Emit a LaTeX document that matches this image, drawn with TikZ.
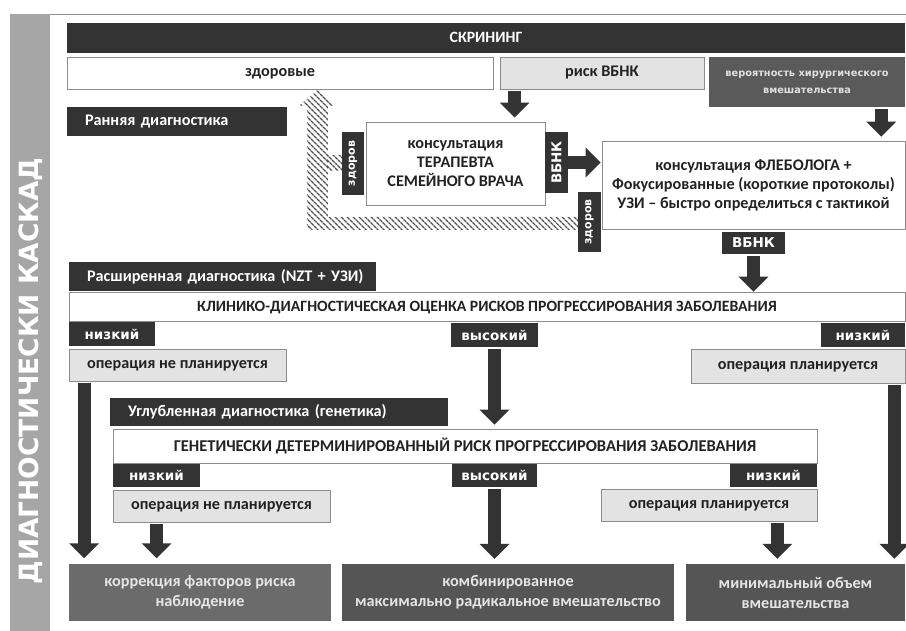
\documentclass[tikz,border=0pt]{standalone}
\usepackage{fontspec}
\setmainfont{Carlito}
\newfontfamily\flagfont{DejaVu Sans}
\usepackage{xcolor}
\usepackage{tikz}
\usetikzlibrary{arrows.meta, calc, patterns.meta}

\definecolor{boxdark}{HTML}{333333}
\definecolor{boxmid}{HTML}{5A5A5A}
\definecolor{boxlight}{HTML}{E3E3E3}
\definecolor{bandgray}{HTML}{A6A6A6}
\definecolor{framegray}{HTML}{8C8C8C}
\definecolor{outbox}{HTML}{555555}
\definecolor{outboxl}{HTML}{6B6B6B}
\definecolor{ink}{HTML}{222222}

\begin{document}
\begin{tikzpicture}[x=1pt, y=-1pt,
  every node/.style={inner sep=0pt, align=center},
  txt/.style={font=\bfseries\fontsize{16.2}{19}\selectfont, text=ink},
  oneline/.style={text height=10pt, text depth=3pt},
  capsline/.style={text height=11pt, text depth=1pt},
  whitebox/.style={txt, draw=framegray, fill=white, line width=0.8pt},
  greybox/.style={txt, oneline, draw=framegray, fill=boxlight, line width=0.8pt},
  stage/.style={fill=boxdark, text=white, font=\bfseries\fontsize{16.2}{18}\selectfont, inner xsep=18pt, align=left, minimum height=29pt},
  flag/.style={fill=boxdark, text=white, font=\flagfont\bfseries\fontsize{13.5}{15}\selectfont},
  sideflag/.style={flag, rotate=90, font=\flagfont\bfseries\fontsize{11}{13}\selectfont},
  outcome/.style={fill=outbox, text=white!90!black, font=\bfseries\fontsize{16.2}{20}\selectfont, minimum height=57pt},
  blk/.style={draw=boxdark, line width=13pt, -{Triangle[width=29pt,length=15pt]}, shorten <=2pt, shorten >=4pt},
  hatch/.style={pattern={Lines[angle=-45,distance=4pt,line width=1.5pt]}, pattern color=boxdark!85}
]
\useasboundingbox (0,0) rectangle (906,631);

% side band and frame
\fill[bandgray] (10,14) rectangle (50,631);
\draw[framegray, line width=1pt] (50,15) -- (906,15);
\node[rotate=90, text=white, font=\flagfont\bfseries\fontsize{26.5}{26.5}\selectfont] (cascade) at (31,371) {ДИАГНОСТИЧЕСКИ КАСКАД};

% screening
\node[fill=boxdark, text=white, capsline, font=\bfseries\fontsize{15.7}{17}\selectfont, minimum width=838pt, minimum height=30pt] (screen) at (486,38) {СКРИНИНГ};
\node[whitebox, oneline, minimum width=426pt, minimum height=32pt] (healthy) at (280,73) {здоровые};
\node[greybox, minimum width=204pt, minimum height=32pt] (risk) at (602,73) {риск ВБНК};
\node[fill=boxmid, text=white!88!black, font=\flagfont\bfseries\fontsize{9.8}{17}\selectfont, minimum width=196pt, minimum height=50pt] (surg) at (807,82) {вероятность хирургического\\вмешательства};

% early diagnostics
\node[stage, text width=184pt] (early) at (177,121.5) {Ранняя диагностика};
\node[whitebox, minimum width=179pt, minimum height=83pt] (ther) at (455.5,163.5) {консультация\\ТЕРАПЕВТА\\СЕМЕЙНОГО ВРАЧА};
\node[whitebox, minimum width=303pt, minimum height=88pt] (phleb) at (753.5,185) {консультация ФЛЕБОЛОГА +\\Фокусированные (короткие протоколы)\\УЗИ – быстро определиться с тактикой};

\node[sideflag, minimum width=63pt, minimum height=22pt] (zdA) at (353,163.5) {здоров};
\node[sideflag, font=\flagfont\bfseries\fontsize{13.5}{15}\selectfont, minimum width=61pt, minimum height=23pt] (vbA) at (556.5,162.5) {ВБНК};
\node[sideflag, minimum width=60pt, minimum height=23pt] (zdB) at (589.5,222) {здоров};
\node[flag, minimum width=63pt, minimum height=22pt] (vbB) at (753.5,243) {ВБНК};

% return to healthy (hatched)
\path[hatch] ($(zdB.north)+(0,-5)$) -- ++(-250,0) -- ++(0,-111) -- ++(8,0) -- ++(-18.5,-16) -- ++(-18.5,16) -- ++(8,0) -- ++(0,124) -- ++(271,0) -- cycle;
\path[hatch] ($(zdA.north)+(0,-7.5)$) rectangle ++(-15,15);

% extended diagnostics
\node[stage, text width=271pt] (ext) at (222.5,276.5) {\mbox{Расширенная диагностика (NZT + УЗИ)}};
\node[whitebox, capsline, font=\bfseries\fontsize{15.7}{18}\selectfont, minimum width=836pt, minimum height=29pt] (clin) at (487,306.5) {КЛИНИКО-ДИАГНОСТИЧЕСКАЯ ОЦЕНКА РИСКОВ ПРОГРЕССИРОВАНИЯ ЗАБОЛЕВАНИЯ};
\node[flag, minimum width=86pt, minimum height=24pt] (lowA) at (112,334) {низкий};
\node[flag, minimum width=87pt, minimum height=24pt] (highA) at (494.5,335) {высокий};
\node[flag, minimum width=84pt, minimum height=24pt] (lowB) at (863,335) {низкий};
\node[greybox, minimum width=217pt, minimum height=32pt] (noopA) at (177.5,365) {операция не планируется};
\node[greybox, minimum width=214pt, minimum height=34pt] (opA) at (798,366) {операция планируется};

% in-depth diagnostics
\node[stage, text width=302pt, minimum height=28pt] (deep) at (279,412) {Углубленная диагностика (генетика)};
\node[whitebox, capsline, font=\bfseries\fontsize{16.5}{18}\selectfont, minimum width=704pt, minimum height=34pt] (gen) at (465,446) {ГЕНЕТИЧЕСКИ ДЕТЕРМИНИРОВАННЫЙ РИСК ПРОГРЕССИРОВАНИЯ ЗАБОЛЕВАНИЯ};
\node[flag, minimum width=87pt, minimum height=23pt] (lowC) at (156.5,475.5) {низкий};
\node[flag, minimum width=85pt, minimum height=23pt] (highB) at (494.5,475.5) {высокий};
\node[flag, minimum width=87pt, minimum height=23pt] (lowD) at (773.5,475.5) {низкий};
\node[greybox, minimum width=217pt, minimum height=32pt] (noopB) at (221.5,506) {операция не планируется};
\node[greybox, minimum width=216pt, minimum height=32pt] (opB) at (709,505) {операция планируется};

% outcomes
\node[outcome, fill=outboxl, minimum width=262pt] (corr) at (200,592) {коррекция факторов риска\\наблюдение};
\node[outcome, minimum width=332pt] (comb) at (508,592.5) {комбинированное\\максимально радикальное вмешательство};
\node[outcome, minimum width=219pt] (mini) at (795.5,592.5) {минимальный объем\\вмешательства};

% arrows
\draw[blk] ([xshift=15pt]risk.south west) -- ([xshift=15pt]risk.south west |- ther.north);
\draw[blk] ([xshift=-24pt]surg.south east) -- ([xshift=-24pt]surg.south east |- phleb.north);
\draw[blk, shorten <=0pt, shorten >=1pt] (vbA.south) -- (vbA.south -| phleb.west);
\draw[blk, shorten >=0pt] (vbB.south) -- (vbB.south |- clin.north);
\draw[blk] (highA.south) -- (highA.south |- gen.north);
\draw[blk, shorten >=5pt] ([xshift=15.5pt]noopA.south west) -- ([xshift=15.5pt]noopA.south west |- corr.north);
\draw[blk, shorten >=5pt] ([xshift=-11pt]opA.south east) -- ([xshift=-11pt]opA.south east |- mini.north);
\draw[blk, shorten >=5pt] ([xshift=44pt]noopB.south west) -- ([xshift=44pt]noopB.south west |- corr.north);
\draw[blk, shorten >=5pt] (highB.south) -- (highB.south |- comb.north);
\draw[blk, shorten >=5pt] ([xshift=-40pt]opB.south east) -- ([xshift=-40pt]opB.south east |- mini.north);
\end{tikzpicture}
\end{document}
